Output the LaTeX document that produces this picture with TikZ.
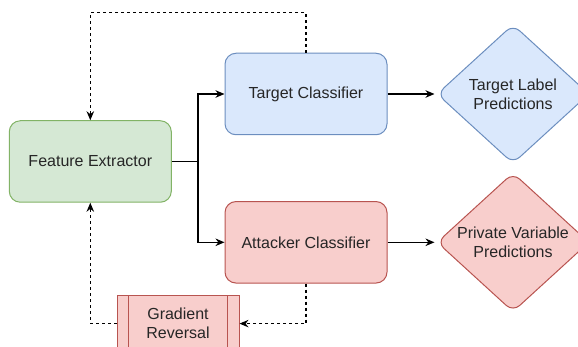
\documentclass[tikz,border=0pt]{standalone}
\usepackage{fontspec}
\setmainfont{Liberation Sans}
\usetikzlibrary{shapes.geometric,arrows.meta}
\definecolor{fefill}{HTML}{D5E8D4}
\definecolor{feline}{HTML}{82B366}
\definecolor{tcfill}{HTML}{DAE8FC}
\definecolor{tcline}{HTML}{6C8EBF}
\definecolor{acfill}{HTML}{F8CECC}
\definecolor{acline}{HTML}{B85450}
\begin{document}
\begin{tikzpicture}[x=1pt,y=-1pt,>={Stealth[length=9pt,width=7.5pt]},
	font=\fontsize{16}{19}\selectfont,text=black!85,
	box/.style={draw,rounded corners=11pt,line width=1pt,minimum width=162pt,minimum height=81.5pt,inner sep=0pt},
	pred/.style={diamond,draw,rounded corners=9pt,line width=1pt,minimum width=152pt,minimum height=139pt,inner sep=0pt},
	link/.style={->,line width=1.4pt},
	back/.style={->,line width=1.2pt,dash pattern=on 3pt off 3pt}]
	\useasboundingbox (0,0) rectangle (578,347);
	% blocks
	\node[box,fill=fefill,draw=feline] (fe) at (90.3,161.5) {Feature Extractor};
	\node[box,fill=tcfill,draw=tcline] (tc) at (306,94) {Target Classifier};
	\node[box,fill=acfill,draw=acline] (ac) at (306,242.3) {Attacker Classifier};
	\node[pred,fill=tcfill,draw=tcline] (tp) at (513,94) {};
	\node[align=center] (tptext) at (tp) {Target Label\\Predictions};
	\node[pred,fill=acfill,draw=acline] (ap) at (513,242.3) {};
	\node[align=center] (aptext) at (ap) {Private Variable\\Predictions};
	\node[draw=acline,fill=acfill,line width=1pt,minimum width=122pt,minimum height=56pt,inner sep=0pt,align=center] (gr) at (178,323.6) {Gradient\\Reversal};
	\draw[acline,line width=1pt] ([xshift=12pt]gr.north west) -- ([xshift=12pt]gr.south west)
	([xshift=-12pt]gr.north east) -- ([xshift=-12pt]gr.south east);
	% forward
	\coordinate (fork) at (198,161.5);
	\draw[link] (fe.east) -- (fork) |- (tc.west);
	\draw[link] (fork) |- (ac.west);
	\draw[link,shorten >=2pt] (tc.east) -- (tp.west);
	\draw[link,shorten >=2pt] (ac.east) -- (ap.west);
	% feedback
	\draw[back] (tc.north) -- ++(0,-40) -| (fe.north);
	\draw[back] (ac.south) |- (gr.east);
	\draw[back] (gr.west) -| (fe.south);
\end{tikzpicture}
\end{document}
